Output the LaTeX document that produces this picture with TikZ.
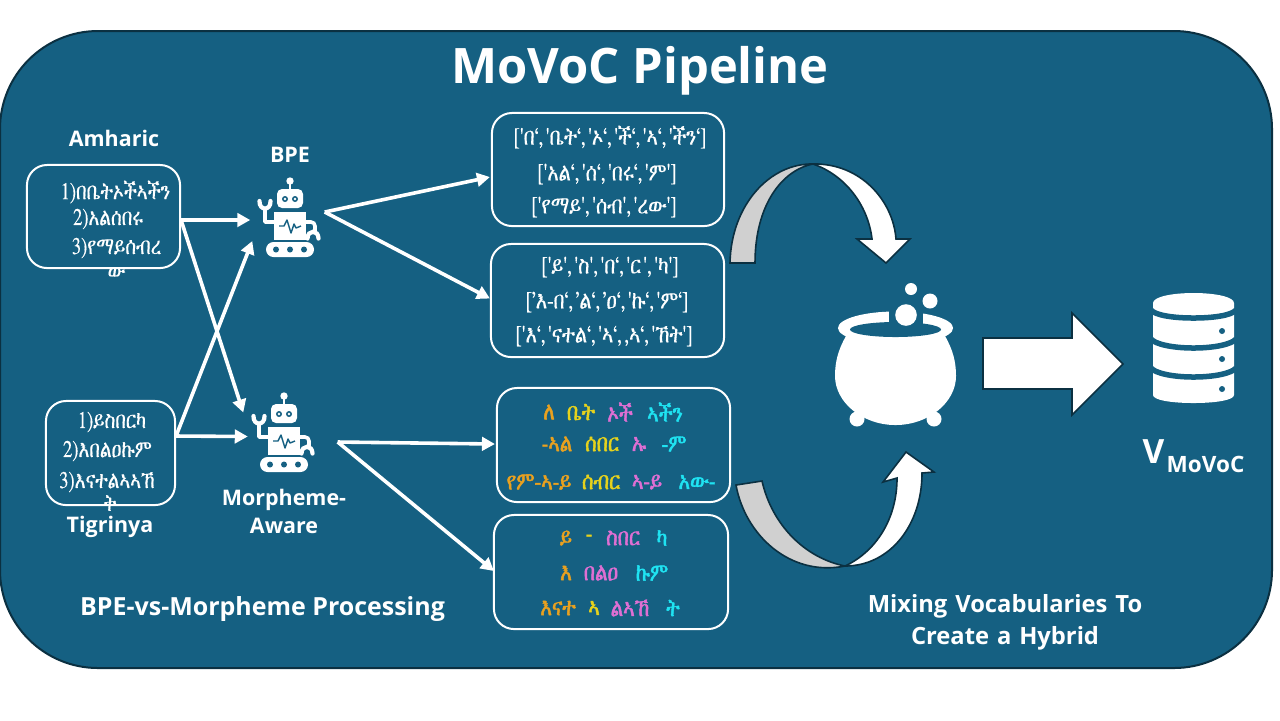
\documentclass[tikz,border=0pt]{standalone}
\usepackage{fontspec}
\usetikzlibrary{arrows.meta,calc}
\setmainfont{Open Sans}
\newfontfamily\ethf[FakeStretch=0.78,WordSpace=0.5,FakeBold=0.4]{FreeSerif}
\newfontfamily\ethl[FakeStretch=0.77,FakeBold=0.4]{FreeSerif}
\newfontfamily\ethbf[FakeBold=1.8,FakeStretch=0.8]{FreeSerif}
\definecolor{bgblue}{HTML}{156082}
\definecolor{edge}{HTML}{0B3041}
\definecolor{cOrange}{HTML}{E9A11F}
\definecolor{cYellow}{HTML}{E6D21C}
\definecolor{cPink}{HTML}{DF6FD3}
\definecolor{cCyan}{HTML}{1FE3F2}
\definecolor{cGray}{HTML}{D0D0D0}
\tikzset{
  x=0.01cm,y=-0.01cm,
  tbox/.style={draw=white,line width=0.02cm,rounded corners=0.2cm,inner sep=0pt,fill=none},
  lbl/.style={text=white,font=\bfseries\fontsize{6.1pt}{7pt}\selectfont,inner sep=0pt},
  sent/.style={text=white,font=\ethl\fontsize{6.8pt}{6pt}\selectfont,inner sep=0pt},
  tok/.style={text=white,font=\ethf\fontsize{7pt}{6pt}\selectfont,inner sep=0pt},
  morph/.style={font=\ethbf\fontsize{7pt}{6pt}\selectfont,inner sep=0pt},
  arr/.style={draw=white,line width=0.036cm,-{Triangle[length=0.13cm,width=0.135cm]}},
  blockw/.style={fill=white,draw=edge,line width=0.016cm,line join=miter},
  blockg/.style={fill=cGray,draw=edge,line width=0.016cm,line join=miter},
  robotnode/.style={inner sep=0pt,minimum width=0.73cm,minimum height=0.7cm},
  robot/.pic={
    \draw[white,line width=0.025cm] (0,0) -- (0,10);
    \fill[white] (0,0) circle[radius=0.037cm];
    \fill[white,rounded corners=0.05cm] (-13,8) rectangle (13,27);
    \fill[bgblue] (-5,18) circle[radius=0.03cm] (5,18) circle[radius=0.03cm];
    \fill[white] (-5,18) circle[radius=0.013cm] (5,18) circle[radius=0.013cm];
    \fill[white] (-16,31) rectangle (16,59);
    \draw[bgblue,line width=0.014cm,line join=round] (-11,45) -- (-6,45) -- (-3,39) -- (1,52) -- (4,43) -- (6,47) -- (11,45);
    \draw[white,line width=0.036cm,line join=round] (-16,41) -- (-25,41) -- (-25,29);
    \draw[white,line width=0.042cm,line cap=round] (-30.5,20) .. controls (-31,30) and (-19,30) .. (-19.5,20);
    \draw[white,line width=0.036cm,rounded corners=0.04cm] (16,41) -- (25,41) -- (25,52);
    \draw[white,line width=0.042cm,line cap=round] (17.5,57.5) .. controls (17.5,48.5) and (28.5,48.5) .. (28.5,57.5);
    \fill[white,rounded corners=0.075cm] (-24,61) rectangle (24,76);
    \fill[bgblue] (-14,68.5) circle[radius=0.03cm] (0,68.5) circle[radius=0.03cm] (14,68.5) circle[radius=0.03cm];
  }
}
\begin{document}
\begin{tikzpicture}
\useasboundingbox (0,0) rectangle (1280,720);
\fill[white] (0,0) rectangle (1280,720);
\draw[fill=bgblue,draw=edge,line width=0.02cm,rounded corners=0.98cm] (0,31) rectangle (1272,668);
% title
\node[text=white,font=\bfseries\fontsize{13.9pt}{16pt}\selectfont,inner sep=0pt] (title) at (640,71) {MoVoC Pipeline};
% left boxes
\node[tbox,minimum width=1.53cm,minimum height=1.03cm] (amh) at (103.5,216.5) {};
\node[tbox,minimum width=1.29cm,minimum height=1.04cm] (tig) at (110.5,453) {};
\node[lbl] (lamh) at (114,138) {Amharic};
\node[lbl] (ltig) at (110,527) {Tigrinya};
\node[sent] (a1) at (115.5,192) {1)በቤትኦችኣችን};
\node[sent] (a2) at (108,219) {2)አልሰበሩ};
\node[sent] (a3) at (116.5,248) {3)የማይሰብረ};
\node[sent] (a4) at (116.5,273) {ው};
\node[sent] (t1) at (112,422) {1)ይስበርካ};
\node[sent] (t2) at (107.5,451) {2)እበልዐኩም};
\node[sent] (t3) at (107,482) {3)እናተልኣኣኸ};
\node[sent] (t4) at (110,503) {ት};
% robots
\pic at (290,181) {robot};
\pic at (284,396) {robot};
\node[robotnode] (bpe) at (287.5,220) {};
\node[robotnode] (mor) at (285,436.5) {};
\node[lbl] (lbpe) at (290,155) {BPE};
\node[lbl,align=center,text width=2cm,font=\bfseries\fontsize{6.1pt}{8pt}\selectfont] (lmor) at (284,511) {Morpheme-\\Aware};
% token boxes
\node[tbox,minimum width=2.32cm,minimum height=1.13cm] (b1) at (608,169.5) {};
\node[tbox,minimum width=2.33cm,minimum height=1.13cm] (b2) at (607.5,300.5) {};
\node[tbox,minimum width=2.33cm,minimum height=1.14cm] (b3) at (613.5,445) {};
\node[tbox,minimum width=2.34cm,minimum height=1.14cm] (b4) at (611,572) {};
\node[tok] (k11) at (610,137) {['በ‘, 'ቤት‘, 'ኦ‘, 'ች‘, 'ኣ‘, 'ችን‘]};
\node[tok] (k12) at (607,174) {['አል‘, 'ሰ‘, 'በሩ‘, 'ም']};
\node[tok] (k13) at (604,207) {['የማይ', 'ሰብ', 'ረው']};
\node[tok] (k21) at (610,267) {['ይ', 'ስ', 'በ‘, 'ር ', 'ካ']};
\node[tok] (k22) at (607,302) {[’እ-በ‘, ’ል‘, ’ዐ‘, 'ኩ‘, 'ም‘]};
\node[tok] (k23) at (604,336) {['እ‘, 'ናተል‘, 'ኣ‘, ,ኣ‘, 'ኸት']};
% morphemes
\node[morph,text=cOrange] (m11) at (549,412) {ለ};
\node[morph,text=cYellow] (m12) at (581,412) {ቤት};
\node[morph,text=cPink] (m13) at (620,412) {ኦች};
\node[morph,text=cCyan] (m14) at (665,412) {ኣችን};
\node[morph,text=cOrange] (m21) at (557,444) {-ኣል};
\node[morph,text=cYellow] (m22) at (602,444) {ሰበር};
\node[morph,text=cPink] (m23) at (639,444) {ኡ};
\node[morph,text=cCyan] (m24) at (674,444) {-ም};
\node[morph,text=cOrange] (m31) at (539,482) {የም-ኣ-ይ};
\node[morph,text=cYellow] (m32) at (601,482) {ሰብር};
\node[morph,text=cPink] (m33) at (647,482) {ኣ-ይ};
\node[morph,text=cCyan] (m34) at (697,482) {አው-};
\node[morph,text=cOrange] (n11) at (566,538) {ይ};
\node[morph,text=cYellow] (n12) at (589,538) {-};
\node[morph,text=cPink] (n13) at (623,538) {ስበር};
\node[morph,text=cCyan] (n14) at (662,538) {ካ};
\node[morph,text=cOrange] (n21) at (566,573) {እ};
\node[morph,text=cPink] (n22) at (601,573) {በልዐ};
\node[morph,text=cCyan] (n23) at (652,573) {ኩም};
\node[morph,text=cOrange] (n31) at (558,608) {እናተ};
\node[morph,text=cYellow] (n32) at (594,608) {ኣ};
\node[morph,text=cPink] (n33) at (630,608) {ልኣኸ};
\node[morph,text=cCyan] (n34) at (673,608) {ት};
% connectors
\draw[arr] ($(amh.east)+(0,3.5)$) -- (bpe.west);
\draw[arr] ($(amh.east)+(0,3.5)$) -- ($(mor.west)+(-4.5,-24)$);
\draw[arr] ($(tig.east)+(0,-17)$) -- ($(bpe.west)+(2,21)$);
\draw[arr] ($(tig.east)+(0,-17)$) -- (mor.west);
\draw[arr] ($(bpe.east)+(0,-8)$) -- ($(b1.west)+(-1,7.5)$);
\draw[arr] ($(bpe.east)+(0,-8)$) -- ($(b2.west)+(0,-2)$);
\draw[arr] ($(mor.east)+(15.5,5.5)$) -- ($(b3.west)+(-1,-1)$);
\draw[arr] ($(mor.east)+(15.5,5.5)$) -- ($(b4.west)+(1,-1)$);
% cauldron
\fill[white] (846,336) .. controls (838,350) and (835,362) .. (835,376) .. controls (835,402) and (862,425) .. (895.5,425) .. controls (929,425) and (956,402) .. (956,376) .. controls (956,362) and (953,350) .. (945,336) -- cycle;
\fill[white] (857,419) circle[radius=0.075cm] (934,419) circle[radius=0.075cm];
\fill[white] (895.5,328) ellipse[x radius=0.575cm,y radius=0.165cm];
\fill[bgblue] (895.5,329.5) ellipse[x radius=0.455cm,y radius=0.075cm];
\fill[bgblue] (889,305) rectangle (923,326);
\fill[white] (906,315) circle[radius=0.108cm];
\fill[white] (911,289) circle[radius=0.06cm];
\fill[white] (930,301) circle[radius=0.075cm];
% curved arrows
\draw[blockg] (730,263) .. controls (731,205) and (770,163) .. (813,164) .. controls (782,170) and (755,205) .. (755,263) -- cycle;
\draw[blockw] (813,164) .. controls (860,163) and (893,200) .. (896,239) -- (910,239) -- (886,263) -- (857,239) -- (872,239) .. controls (868,205) and (845,175) .. (813,164) -- cycle;
\draw[blockg] (736,485) .. controls (745,535) and (790,577) .. (845,566) .. controls (805,558) and (772,525) .. (762,481) -- cycle;
\draw[blockw] (845,566) .. controls (875,552) and (897,520) .. (897,478) -- (883,482) -- (906,452) -- (934,472) -- (922,473) .. controls (922,525) and (890,566) .. (845,566) -- cycle;
% big arrow
\draw[blockw] (983,338) -- (1072,338) -- (1072,313) -- (1123,364) -- (1072,415) -- (1072,389) -- (983,389) -- cycle;
% database
\fill[white] (1153,303) -- (1153,395) .. controls (1153,400) and (1171,403) .. (1193.5,403) .. controls (1216,403) and (1234,400) .. (1234,395) -- (1234,303) .. controls (1234,297) and (1216,293) .. (1193.5,293) .. controls (1171,293) and (1153,297) .. (1153,303) -- cycle;
\draw[bgblue,line width=0.055cm] (1151,310) .. controls (1155,315) and (1172,318) .. (1193.5,318) .. controls (1215,318) and (1232,315) .. (1236,310);
\draw[bgblue,line width=0.055cm] (1151,339) .. controls (1155,344) and (1172,348) .. (1193.5,348) .. controls (1215,348) and (1232,344) .. (1236,339);
\draw[bgblue,line width=0.055cm] (1151,368) .. controls (1155,373) and (1172,377) .. (1193.5,377) .. controls (1215,377) and (1232,373) .. (1236,368);
\fill[bgblue] (1222,331) circle[radius=0.03cm] (1222,359) circle[radius=0.03cm] (1222,389) circle[radius=0.03cm];
% captions
\node[lbl,font=\bfseries\fontsize{7.1pt}{8pt}\selectfont] (lproc) at (262.5,609) {BPE-vs-Morpheme Processing};
\node[lbl,align=center,text width=3.2cm,font=\bfseries\fontsize{6.75pt}{9pt}\selectfont] (lmix) at (1005,622) {Mixing Vocabularies To\\Create a Hybrid};
\node[lbl,anchor=base west,font=\bfseries\fontsize{9.5pt}{10pt}\selectfont] (vv) at (1142,463) {V};
\node[lbl,anchor=base west,font=\bfseries\fontsize{6.4pt}{7pt}\selectfont] (vsub) at (1166,472) {MoVoC};
\end{tikzpicture}
\end{document}
